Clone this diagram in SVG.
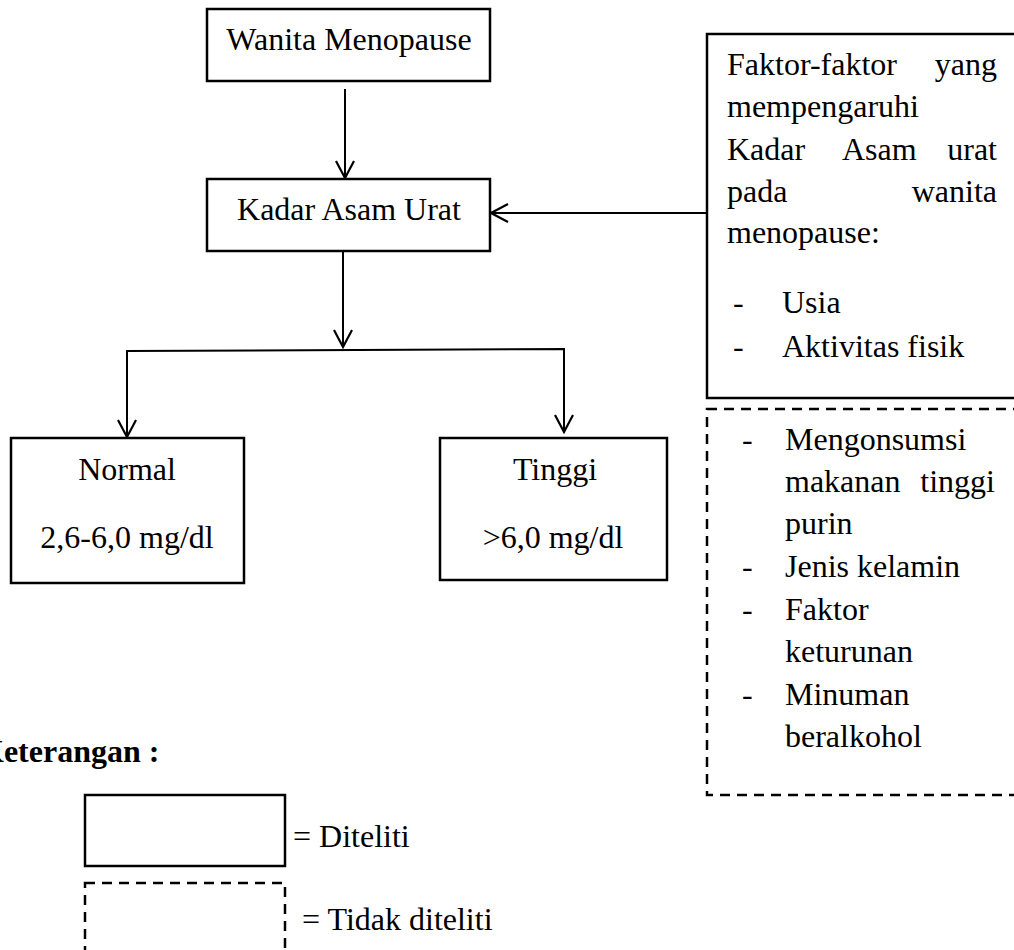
<svg xmlns="http://www.w3.org/2000/svg" width="1014" height="950" viewBox="0 0 1014 950">
<style>
  text { font-family: "Liberation Serif", "Times New Roman", serif; font-size: 32px; fill: #000; }
  .box { fill: #fff; stroke: #000; stroke-width: 2.5; }
  .dash { fill: none; stroke: #000; stroke-width: 2.5; stroke-dasharray: 10 7; }
  .conn { fill: none; stroke: #000; stroke-width: 2; }
  .bold { font-weight: bold; }
</style>
<defs>
  <marker id="arr" markerUnits="userSpaceOnUse" viewBox="-19 -11 21 22" refX="0" refY="0" markerWidth="21" markerHeight="22" orient="auto">
    <path d="M-17,-9 L0,0 L-17,9" fill="none" stroke="#000" stroke-width="2.2"/>
  </marker>
</defs>
<rect width="1014" height="950" fill="#fff"/>

<g id="connectors">
  <line class="conn" x1="345" y1="89" x2="345" y2="178" marker-end="url(#arr)"/>
  <line class="conn" x1="706" y1="213" x2="491" y2="213" marker-end="url(#arr)"/>
  <line class="conn" x1="343" y1="251" x2="343" y2="347" marker-end="url(#arr)"/>
  <polyline class="conn" points="127,438 127,351 564,349 564,432"/>
  <line class="conn" x1="127" y1="400" x2="127" y2="437" marker-end="url(#arr)"/>
  <line class="conn" x1="564" y1="400" x2="564" y2="432" marker-end="url(#arr)"/>
</g>

<g id="node-wanita">
  <rect class="box" x="207" y="9" width="283" height="72"/>
  <text x="349" y="50" text-anchor="middle" font-size="31">Wanita Menopause</text>
</g>

<g id="node-kadar">
  <rect class="box" x="207" y="179" width="283" height="72"/>
  <text x="349" y="220" text-anchor="middle">Kadar Asam Urat</text>
</g>

<g id="node-normal">
  <rect class="box" x="11" y="438" width="233" height="145"/>
  <text x="127" y="480" text-anchor="middle">Normal</text>
  <text x="127" y="548" text-anchor="middle">2,6-6,0 mg/dl</text>
</g>

<g id="node-tinggi">
  <rect class="box" x="440" y="438" width="227" height="142"/>
  <text x="555" y="480" text-anchor="middle">Tinggi</text>
  <text x="553" y="548" text-anchor="middle">&gt;6,0 mg/dl</text>
</g>

<g id="node-faktor">
  <rect class="box" x="707" y="34" width="320" height="364"/>
  <text x="727" y="75">Faktor-faktor</text>
  <text x="997" y="75" text-anchor="end">yang</text>
  <text x="727" y="117">mempengaruhi</text>
  <text x="727" y="160">Kadar</text>
  <text x="842" y="160">Asam</text>
  <text x="997" y="160" text-anchor="end">urat</text>
  <text x="727" y="202">pada</text>
  <text x="997" y="202" text-anchor="end">wanita</text>
  <text x="727" y="243">menopause:</text>
  <text x="733" y="313">-</text>
  <text x="782" y="313">Usia</text>
  <text x="733" y="357">-</text>
  <text x="782" y="357">Aktivitas fisik</text>
</g>

<g id="node-tidak">
  <rect class="dash" x="707" y="409" width="320" height="386"/>
  <text x="742" y="450">-</text>
  <text x="785" y="450">Mengonsumsi</text>
  <text x="785" y="492">makanan</text>
  <text x="995" y="492" text-anchor="end">tinggi</text>
  <text x="785" y="534">purin</text>
  <text x="742" y="577">-</text>
  <text x="785" y="577">Jenis kelamin</text>
  <text x="742" y="620">-</text>
  <text x="785" y="620">Faktor</text>
  <text x="785" y="662">keturunan</text>
  <text x="742" y="705">-</text>
  <text x="785" y="705">Minuman</text>
  <text x="785" y="747">beralkohol</text>
</g>

<g id="legend">
  <text x="-21" y="762" class="bold">Keterangan :</text>
  <rect class="box" x="85" y="795" width="200" height="71"/>
  <text x="293" y="847">= Diteliti</text>
  <rect class="dash" x="85" y="883" width="200" height="100"/>
  <text x="302" y="930">= Tidak diteliti</text>
</g>
</svg>
